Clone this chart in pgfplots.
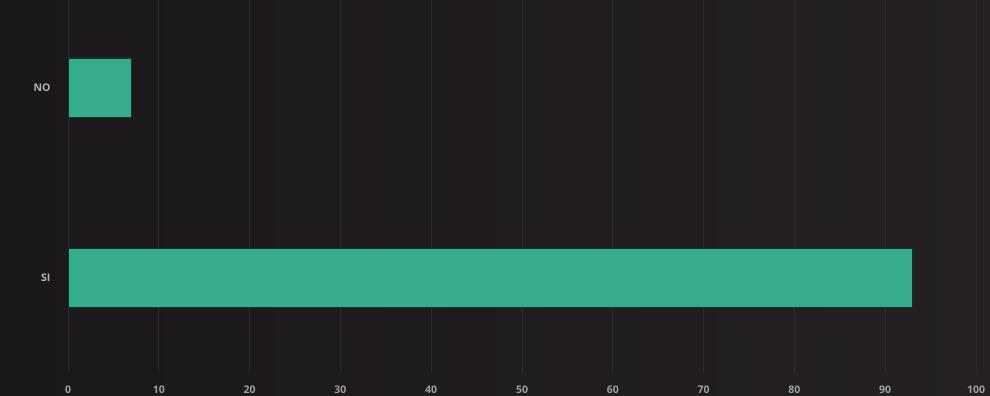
\documentclass[border=0pt]{standalone}
\usepackage{pgfplots}
\pgfplotsset{compat=1.18}
\usepackage{fontspec}
\setmainfont{Open Sans}
\definecolor{bgL}{HTML}{1B1819}
\definecolor{bgR}{HTML}{252122}
\definecolor{barc}{HTML}{36AC8C}
\definecolor{gridc}{HTML}{2F2B2C}
\definecolor{txt}{HTML}{B4B4B4}
\definecolor{txtx}{HTML}{A0A0A0}
\begin{document}
\begin{tikzpicture}[x=1pt,y=1pt]
\shade[left color=bgL,right color=bgR] (0,0) rectangle (990,396);
\useasboundingbox (0,0) rectangle (990,396);
\begin{axis}[
  at={(68pt,24pt)}, anchor=south west,
  scale only axis, width=908pt, height=372pt,
  xbar, bar width=59pt,
  xmin=0, xmax=100,
  ymin=-0.497, ymax=1.46,
  ytick={0,1}, yticklabels={SI,NO},
  xtick={0,10,...,100},
  axis line style={draw=none},
  major tick length=0pt,
  xmajorgrids, grid style={gridc, line width=0.8pt},
  tick label style={font=\fontsize{10.5}{12}\selectfont\bfseries},
  /pgf/number format/assume math mode=true,
  xticklabel style={yshift=-10pt, text=txtx},
  yticklabel style={xshift=-14pt, text=txt},
  clip=false,
]
\addplot[fill=barc, draw=black!70!barc, line width=0.6pt] coordinates {(93,0) (7,1)};
\end{axis}
\end{tikzpicture}
\end{document}
